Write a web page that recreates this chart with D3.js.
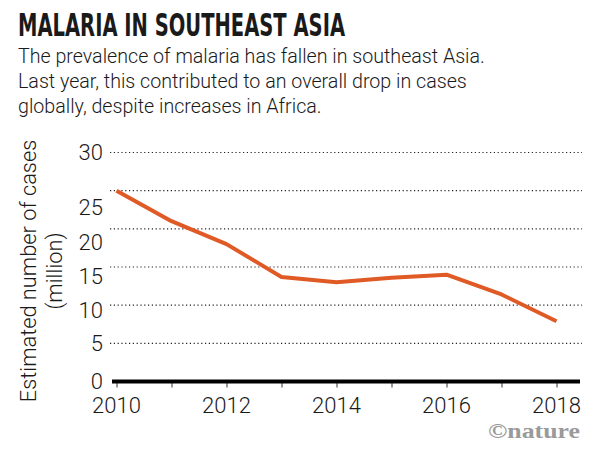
<!DOCTYPE html>
<html><head><meta charset="utf-8">
<script src="https://cdn.jsdelivr.net/npm/d3@7"></script>
<style>body{margin:0;background:#fff}svg{display:block}</style>
</head><body>
<script>
const years = [2010, 2011, 2012, 2013, 2014, 2015, 2016, 2017, 2018];
const cases = [25.0, 21.0, 18.0, 13.7, 13.0, 13.6, 14.0, 11.4, 7.9];
const yTicks = [0, 5, 10, 15, 20, 25, 30];
const xTickLabels = [2010, 2012, 2014, 2016, 2018];
const title = "MALARIA IN SOUTHEAST ASIA";
const subtitle = ["The prevalence of malaria has fallen in southeast Asia.",
  "Last year, this contributed to an overall drop in cases",
  "globally, despite increases in Africa."];
const yTitle = ["Estimated number of cases", "(million)"];

const W = 600, H = 450;
const svg = d3.select("body").append("svg").attr("width", W).attr("height", H);
const x = d3.scaleLinear().domain([2010, 2018]).range([116.5, 556.5]);
const y = d3.scaleLinear().domain([0, 30]).range([381.5, 152.5]);

const sans = "Roboto, 'Open Sans', sans-serif";
svg.append("text").attr("x", 18).attr("y", 36).text(title)
  .attr("font-family", "'DejaVu Sans Condensed', 'Liberation Sans Narrow', sans-serif")
  .attr("font-weight", 700).attr("font-size", 32).attr("fill", "#1a1a1a")
  .attr("textLength", 327).attr("lengthAdjust", "spacingAndGlyphs");
const subs = svg.selectAll(".sub").data(subtitle).join("text")
  .attr("x", 18).attr("y", (d, i) => 62.5 + i * 25).text(d => d)
  .attr("font-family", sans).attr("font-weight", 300).attr("font-size", 20).attr("fill", "#1a1a1a");
// fit first line to the reference width (~467px)
const w0 = subs.node().getComputedTextLength();
subs.attr("font-size", 20 * 467 / w0);

// gridlines
svg.selectAll(".grid").data(yTicks.filter(d => d > 0)).join("line")
  .attr("x1", 110).attr("x2", 582).attr("y1", d => y(d)).attr("y2", d => y(d))
  .attr("stroke", "#222").attr("stroke-width", 1.2).attr("stroke-dasharray", "1.2,2.6");

// y tick labels (original has offset labels in mid range)
const labelNudge = {25: 16, 20: 13, 15: 9, 10: 5};
svg.selectAll(".yl").data(yTicks).join("text")
  .attr("x", 103).attr("y", d => y(d) + (labelNudge[d] || 0)).attr("dy", "0.36em")
  .attr("text-anchor", "end").text(d => d)
  .attr("font-family", sans).attr("font-weight", 300).attr("font-size", 22).attr("fill", "#1a1a1a");

// y title
yTitle.forEach((t, i) => {
  svg.append("text").attr("transform", `translate(${36 + i * 26},271) rotate(-90)`)
    .attr("text-anchor", "middle").text(t)
    .attr("font-family", sans).attr("font-weight", 300).attr("font-size", 21.8).attr("fill", "#1a1a1a");
});

// x axis
const xAxis = d3.axisBottom(x).tickValues(years).tickSize(6).tickFormat("");
const gx = svg.append("g").attr("transform", `translate(0,${y(0)})`).call(xAxis);
gx.select(".domain").remove();
gx.selectAll(".tick line").attr("stroke", "#555").attr("stroke-width", 1.2);
svg.append("line").attr("x1", 112).attr("x2", 580).attr("y1", y(0)).attr("y2", y(0))
  .attr("stroke", "#000").attr("stroke-width", 4);
svg.selectAll(".xl").data(xTickLabels).join("text")
  .attr("x", d => x(d)).attr("y", 413).attr("text-anchor", "middle").text(d => d)
  .attr("font-family", sans).attr("font-weight", 300).attr("font-size", 22).attr("fill", "#1a1a1a");

// line
const line = d3.line().x((d, i) => x(years[i])).y(d => y(d));
svg.append("path").datum(cases).attr("d", line).attr("fill", "none")
  .attr("stroke", "#e05a26").attr("stroke-width", 4).attr("stroke-linejoin", "round");

svg.append("text").attr("x", 580).attr("y", 438).attr("text-anchor", "end").text("©nature")
  .attr("font-family", "'Liberation Serif', serif").attr("font-weight", 700)
  .attr("font-size", 21).attr("fill", "#9a9a9a")
  .attr("textLength", 92).attr("lengthAdjust", "spacingAndGlyphs");
</script>
</body></html>
